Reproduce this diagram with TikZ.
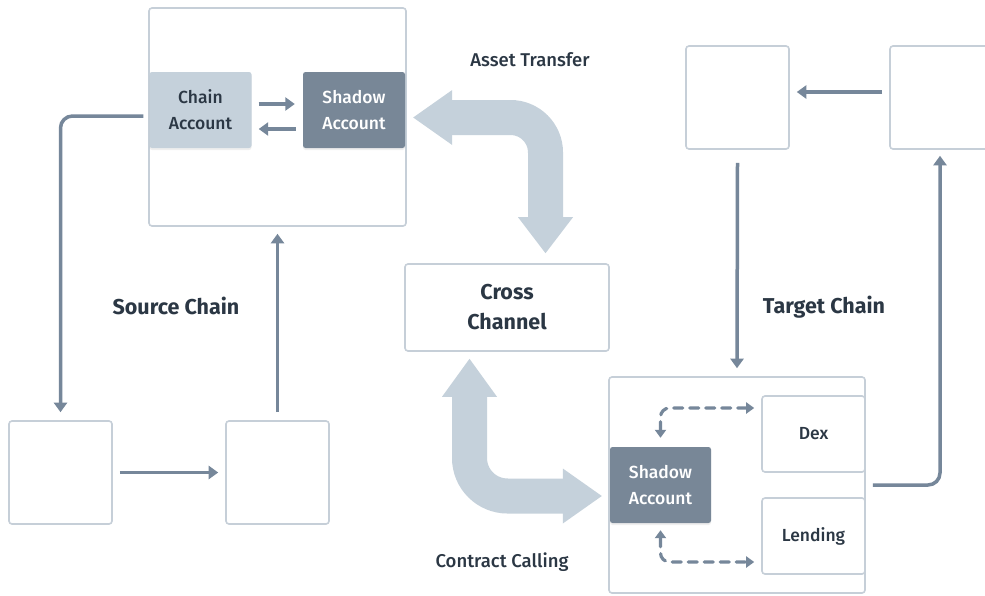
\documentclass[tikz,border=0pt]{standalone}
\usepackage{fontspec}
\setmainfont{Fira Sans}[UprightFont={* Medium}, BoldFont={* Bold}]
\usetikzlibrary{arrows.meta,calc,shadows}
\definecolor{boxline}{HTML}{C6CFD8}
\definecolor{flow}{HTML}{76879A}
\definecolor{pale}{HTML}{C5D1DB}
\definecolor{slate}{HTML}{788797}
\definecolor{ink}{HTML}{2B3744}
\begin{document}
\begin{tikzpicture}[x=1pt,y=-1pt,
  frame/.style={draw=boxline, line width=1.6pt, rounded corners=3pt, fill=white, inner sep=0pt},
  sq/.style={frame, minimum width=103pt, minimum height=103pt},
  acct/.style={rounded corners=2.5pt, inner sep=0pt, minimum width=102pt, minimum height=76pt,
    align=center, font=\fontsize{17.5}{26}\selectfont,
    drop shadow={opacity=0.12, shadow xshift=0pt, shadow yshift=-2pt}},
  lightacct/.style={acct, fill=pale, text=ink},
  darkacct/.style={acct, fill=slate, text=white},
  leaf/.style={frame, minimum width=103pt, minimum height=76pt, font=\fontsize{17.5}{20}\selectfont, text=ink},
  flowarrow/.style={draw=flow, line width=3.5pt, -{Triangle[length=9.5pt,width=13pt]}},
  dasharrow/.style={draw=flow, line width=3.2pt, dash pattern=on 9pt off 7pt, line cap=round,
    {Triangle[length=8pt,width=11pt]}-{Triangle[length=8pt,width=11pt]}},
  bigshaft/.style={draw=pale, line width=35pt},
  label/.style={text=ink, font=\fontsize{18.5}{20}\selectfont},
  title/.style={text=ink, font=\bfseries\fontsize{21.5}{30}\selectfont, align=center}
]
\clip (0,0) rectangle (985,595);
\fill[white] (0,0) rectangle (985,595);

% ---- source chain ----
\node[frame, minimum width=257pt, minimum height=218pt] (srcA) at (277.5,117) {};
\node[lightacct] (chainacc) at (200.5,110) {Chain\\Account};
\node[darkacct] (shadowS) at (354,110) {Shadow\\Account};
\node[sq] (bl) at (60.5,472.5) {};
\node[sq] (bm) at (277.5,472.5) {};
\node[title] at (176,306) {Source Chain};

\draw[flowarrow] ($(chainacc.east)+(7,-6)$) -- ($(shadowS.west)+(-8,-6)$);
\draw[flowarrow] ($(shadowS.west)+(-7,19)$) -- ($(chainacc.east)+(7,19)$);
\draw[flowarrow, rounded corners=12pt] ($(chainacc.west)+(-6,6)$) -| ($(bl.north)+(0,-8)$);
\draw[flowarrow] ($(bl.east)+(7,0)$) -- ($(bm.west)+(-7,0)$);
\draw[flowarrow] ($(bm.north)+(0,-8)$) -- ($(srcA.south)+(0,7)$);

% ---- cross channel ----
\node[frame, minimum width=204pt, minimum height=87pt, title] (cross) at (507,307.5) {Cross\\Channel};
\node[label] at (530,60) {Asset Transfer};
\node[label] at (502,562) {Contract Calling};

% ---- target chain ----
\node[frame, minimum width=256pt, minimum height=216pt] (target) at (737,485) {};
\node[darkacct, minimum width=101pt] (shadowT) at (660.5,485) {Shadow\\Account};
\node[leaf] (dex) at (813.5,434) {Dex};
\node[leaf] (lending) at (813.5,536) {Lending};
\node[sq] (tr1) at (737.5,97.5) {};
\node[sq] (tr2) at (941.5,97.5) {};
\node[title] at (824,307) {Target Chain};

\draw[dasharrow, rounded corners=9pt] ($(dex.west)+(-7,-26)$) -| ($(shadowT.north)+(0,-9)$);
\draw[dasharrow, rounded corners=9pt] ($(shadowT.south)+(0,7)$) |- ($(lending.west)+(-7,26)$);
\draw[flowarrow, rounded corners=12pt] ($(target.east)+(7,0)$) -| ($(tr2.south)+(-1.5,6)$);
\draw[flowarrow] ($(tr2.west)+(-7,-5.5)$) -- ($(tr1.east)+(7,-5.5)$);
\draw[flowarrow] ($(tr1.south)+(0,13)$) -- ($(target.north)+(0,-8)$);

% ---- asset transfer arrow ----
\coordinate (atL) at ($(shadowS.east)+(8,7.5)$);
\coordinate (atD) at ($(cross.north)+(38.5,-10)$);
\draw[bigshaft, rounded corners=35pt] ($(atL)+(38,0)$) -| ($(atD)+(0,-35)$);
\fill[pale] ($(atL)+(39,-27.5)$) -- (atL) -- ($(atL)+(39,27.5)$) -- cycle;
\fill[pale] ($(atD)+(-27.5,-36)$) -- (atD) -- ($(atD)+(27.5,-36)$) -- cycle;

% ---- contract calling arrow ----
\coordinate (ccU) at ($(cross.south)+(-37.5,7)$);
\coordinate (ccR) at ($(shadowT.west)+(-8,11)$);
\draw[bigshaft, rounded corners=38pt] ($(ccU)+(0,37)$) |- ($(ccR)+(-38,0)$);
\fill[pale] ($(ccU)+(-27.5,38)$) -- (ccU) -- ($(ccU)+(27.5,38)$) -- cycle;
\fill[pale] ($(ccR)+(-39,-27.5)$) -- (ccR) -- ($(ccR)+(-39,27.5)$) -- cycle;
\end{tikzpicture}
\end{document}
